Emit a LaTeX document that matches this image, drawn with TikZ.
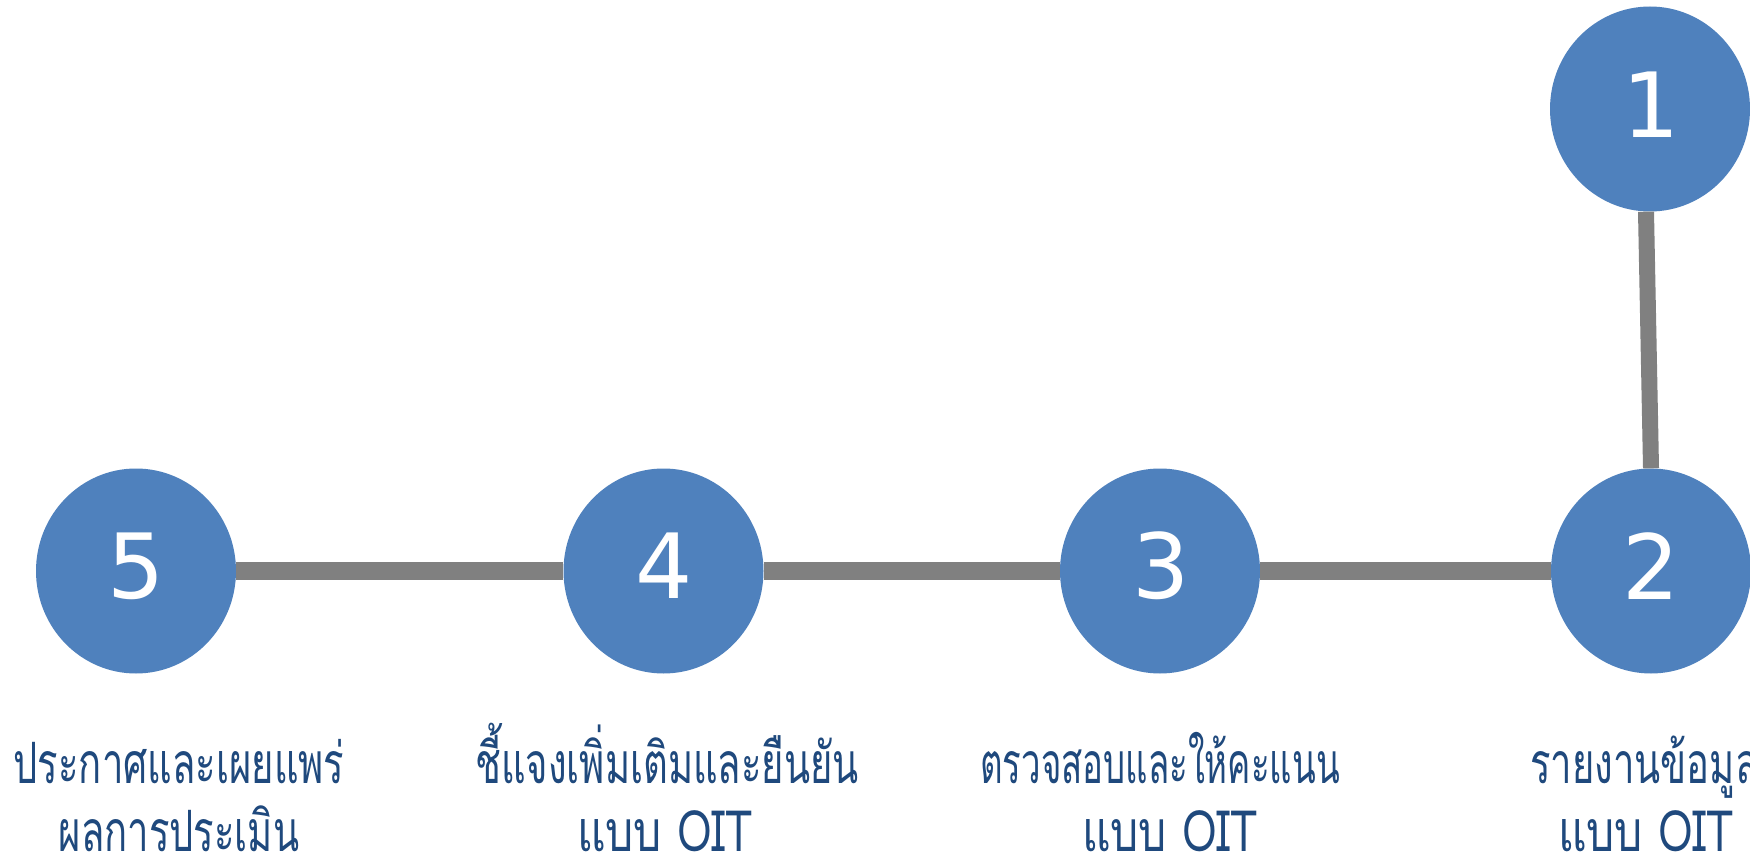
\documentclass[tikz,border=0pt]{standalone}
\usepackage{fontspec}
\newfontfamily\digitfont{DejaVu Sans}
\newfontfamily\thaicapA[Script=Thai,FakeStretch=0.67]{Loma}
\newfontfamily\thaicapB[Script=Thai,FakeStretch=0.78]{Loma}
\newfontfamily\thaicapC[Script=Thai,FakeStretch=0.61]{Loma}
\usetikzlibrary{shapes.geometric}
\definecolor{circblue}{HTML}{4F81BD}
\definecolor{txtblue}{HTML}{1F497D}
\definecolor{linegray}{HTML}{808080}
\tikzset{
  stepcirc/.style={ellipse, fill=circblue, minimum width=200pt, minimum height=205pt, inner sep=0pt},
  digit/.style={text=white, font=\digitfont\fontsize{90}{90}\selectfont, inner sep=0pt},
  captxt/.style={text=txtblue, font=\thaicapA\fontsize{57}{67}\selectfont, inner sep=0pt, anchor=base},
  captxtB/.style={captxt, font=\thaicapB\fontsize{57}{67}\selectfont},
  captxtC/.style={captxt, font=\thaicapC\fontsize{57}{67}\selectfont},
  conn/.style={draw=linegray, line width=18pt},
  vconn/.style={draw=linegray, line width=16pt}
}
\begin{document}
\begin{tikzpicture}[x=1pt,y=-1pt]
\useasboundingbox (0,0) rectangle (1750,858);
\clip (0,0) rectangle (1750,858);
\fill[white] (0,0) rectangle (1750,858);
% circles
\node[stepcirc] (c1) at (1650,109) {};
\node[stepcirc] (c2) at (1651,571) {};
\node[stepcirc] (c3) at (1160,571) {};
\node[stepcirc] (c4) at (663.5,571) {};
\node[stepcirc] (c5) at (136,571) {};
% connectors
\path[vconn] ([xshift=-4pt]c1.south) -- (c2.north);
\path[conn] (c5.east) -- (c4.west);
\path[conn] (c4.east) -- (c3.west);
\path[conn] (c3.east) -- (c2.west);
% digits
\node[digit] (d1) at (1651,105) {1};
\node[digit] (d2) at (1651,566) {2};
\node[digit] (d3) at (1161,566) {3};
\node[digit] (d4) at (664,566) {4};
\node[digit] (d5) at (136,566) {5};
% captions
\node[captxt] (t5a) at (179,783) {ประกาศและเผยแพร่};
\node[captxt] (t5b) at (179,851) {ผลการประเมิน};
\node[captxt] (t4a) at (667,783) {ชี้แจงเพิ่มเติมและยืนยัน};
\node[captxtB] (t4b) at (665,851) {แบบ OIT};
\node[captxtC] (t3a) at (1160,783) {ตรวจสอบและให้คะแนน};
\node[captxtB] (t3b) at (1170,851) {แบบ OIT};
\node[captxt, anchor=base west] (t2a) at (1530,783) {รายงานข้อมูล};
\node[captxtB] (t2b) at (1646,851) {แบบ OIT};
\end{tikzpicture}
\end{document}
